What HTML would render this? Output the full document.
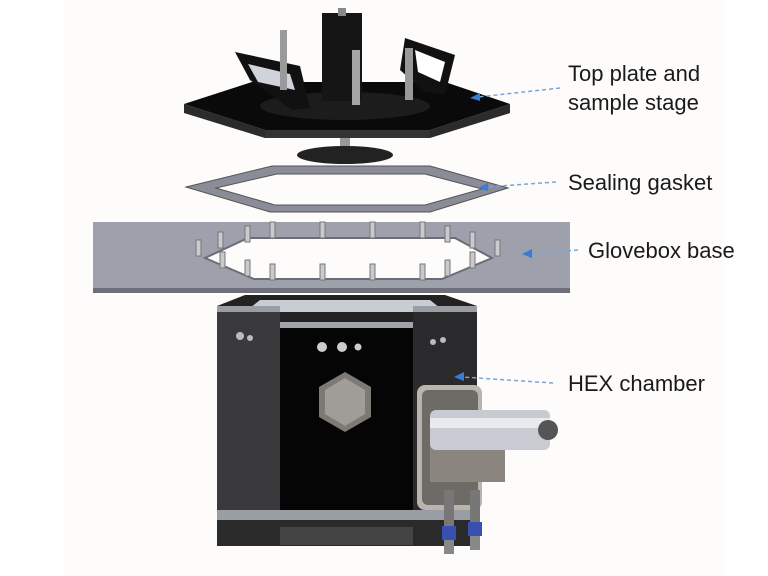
<!DOCTYPE html>
<html><head><style>
body{margin:0;background:#fff}
svg{display:block}
text{font-family:"Liberation Sans",sans-serif;font-size:22px;fill:#1a1a1a}
</style></head><body>
<svg width="768" height="576" viewBox="0 0 768 576" xmlns="http://www.w3.org/2000/svg">
<rect width="768" height="576" fill="#fff"/>
<rect x="64" y="0" width="660" height="576" fill="#fdfcfb"/>
<!-- top plate -->
<polygon points="184,104 265,130 430,130 510,104 510,113 430,138 265,138 184,113" fill="#2b2b2b"/>
<polygon points="184,104 252,82 445,82 510,104 430,130 265,130" fill="#0a0a0a"/>
<polygon points="265,130 430,130 430,138 265,138" fill="#333"/>
<ellipse cx="345" cy="106" rx="85" ry="14" fill="#1c1c1c"/>
<!-- handles -->
<polygon points="235,52 300,66 310,108 292,110 250,80" fill="#111"/>
<polygon points="248,64 290,74 295,90 258,82" fill="#cfd3da"/>
<polygon points="405,38 455,55 445,95 425,92 400,70" fill="#111"/>
<polygon points="415,50 445,62 440,82 418,72" fill="#fff"/>
<!-- column -->
<rect x="322" y="13" width="40" height="88" fill="#151515"/>
<rect x="338" y="8" width="8" height="8" fill="#888"/>
<rect x="280" y="30" width="7" height="60" fill="#9a9a9a"/>
<rect x="352" y="50" width="8" height="55" fill="#a5a5a5"/>
<rect x="405" y="48" width="8" height="52" fill="#999"/>
<!-- stem and stage -->
<rect x="340" y="138" width="10" height="16" fill="#999"/>
<ellipse cx="345" cy="155" rx="48" ry="9" fill="#222"/>
<!-- gasket -->
<path fill-rule="evenodd" fill="#8a8d97" stroke="#555" stroke-width="1" d="M186,187 L272,166 L430,166 L508,188 L430,212 L270,212 Z M216,188 L277,174 L425,174 L482,189 L425,205 L275,205 Z"/>
<!-- glovebox base -->
<rect x="93" y="222" width="477" height="71" fill="#9ea1ac"/>
<rect x="93" y="288" width="477" height="5" fill="#6d707a"/>
<polygon points="205,258 248,238 455,238 492,258 442,279 254,279" fill="#fdfcfb" stroke="#6a6d77" stroke-width="2"/>
<g fill="#c8cad0" stroke="#777" stroke-width="1">
<rect x="196" y="240" width="5" height="16"/><rect x="218" y="232" width="5" height="16"/><rect x="245" y="226" width="5" height="16"/>
<rect x="270" y="222" width="5" height="16"/><rect x="320" y="222" width="5" height="16"/><rect x="370" y="222" width="5" height="16"/>
<rect x="420" y="222" width="5" height="16"/><rect x="445" y="226" width="5" height="16"/><rect x="470" y="232" width="5" height="16"/><rect x="495" y="240" width="5" height="16"/>
<rect x="220" y="252" width="5" height="16"/><rect x="245" y="260" width="5" height="16"/><rect x="270" y="264" width="5" height="16"/>
<rect x="320" y="264" width="5" height="16"/><rect x="370" y="264" width="5" height="16"/><rect x="420" y="264" width="5" height="16"/>
<rect x="445" y="260" width="5" height="16"/><rect x="470" y="252" width="5" height="16"/>
</g>
<!-- chamber -->
<polygon points="217,306 245,295 445,295 477,306 477,322 217,322" fill="#222"/>
<polygon points="260,300 430,300 445,312 245,312" fill="#c9ccd2"/>
<rect x="217" y="306" width="63" height="6" fill="#9a9da4"/>
<rect x="413" y="306" width="64" height="6" fill="#9a9da4"/>
<rect x="217" y="312" width="63" height="215" fill="#3a3a3c"/>
<rect x="413" y="312" width="64" height="215" fill="#2a2a2c"/>
<rect x="280" y="322" width="133" height="6" fill="#a0a3aa"/>
<rect x="280" y="328" width="133" height="199" fill="#050505"/>
<rect x="217" y="510" width="260" height="10" fill="#9a9da4"/>
<rect x="217" y="520" width="260" height="26" fill="#2a2a2a"/>
<rect x="280" y="527" width="133" height="18" fill="#444"/>
<polygon points="345,372 371,387 371,417 345,432 319,417 319,387" fill="#7d7a76"/>
<polygon points="345,378 365,390 365,414 345,426 325,414 325,390" fill="#a09d98"/>
<circle cx="322" cy="347" r="5" fill="#ccc"/><circle cx="342" cy="347" r="5" fill="#ccc"/><circle cx="358" cy="347" r="3.5" fill="#ccc"/>
<circle cx="240" cy="336" r="4" fill="#bbb"/><circle cx="250" cy="338" r="3" fill="#bbb"/>
<circle cx="433" cy="342" r="3" fill="#bbb"/><circle cx="443" cy="340" r="3" fill="#bbb"/>
<!-- detector -->
<rect x="417" y="385" width="65" height="125" rx="8" fill="#b8b5ae"/>
<rect x="422" y="390" width="56" height="115" rx="6" fill="#6e6b66"/>
<rect x="430" y="440" width="75" height="42" fill="#8a867f"/>
<rect x="430" y="410" width="120" height="40" rx="6" fill="#c8ccd2"/>
<rect x="430" y="418" width="120" height="10" fill="#e8eaee"/>
<circle cx="548" cy="430" r="10" fill="#555"/>
<rect x="444" y="490" width="10" height="40" fill="#777"/><rect x="470" y="490" width="10" height="40" fill="#777"/>
<rect x="442" y="526" width="14" height="14" fill="#3a50b0"/><rect x="468" y="522" width="14" height="14" fill="#3a50b0"/>
<rect x="444" y="540" width="10" height="14" fill="#888"/><rect x="470" y="536" width="10" height="14" fill="#888"/>
<!-- arrows -->
<g stroke="#7aa5d8" stroke-width="1.5" stroke-dasharray="4,3" fill="none">
<line x1="560" y1="88" x2="478" y2="97"/>
<line x1="556" y1="182" x2="486" y2="187"/>
<line x1="578" y1="250" x2="530" y2="254"/>
<line x1="553" y1="383" x2="462" y2="377"/>
</g>
<g fill="#3a7bd5">
<polygon points="470,98 480,93 480,101"/>
<polygon points="478,188 488,183 488,191"/>
<polygon points="522,254 532,249 532,258"/>
<polygon points="454,377 464,372 464,381"/>
</g>
<text x="568" y="81">Top plate and</text>
<text x="568" y="110">sample stage</text>
<text x="568" y="190">Sealing gasket</text>
<text x="588" y="258">Glovebox base</text>
<text x="568" y="391">HEX chamber</text>
</svg>
</body></html>
